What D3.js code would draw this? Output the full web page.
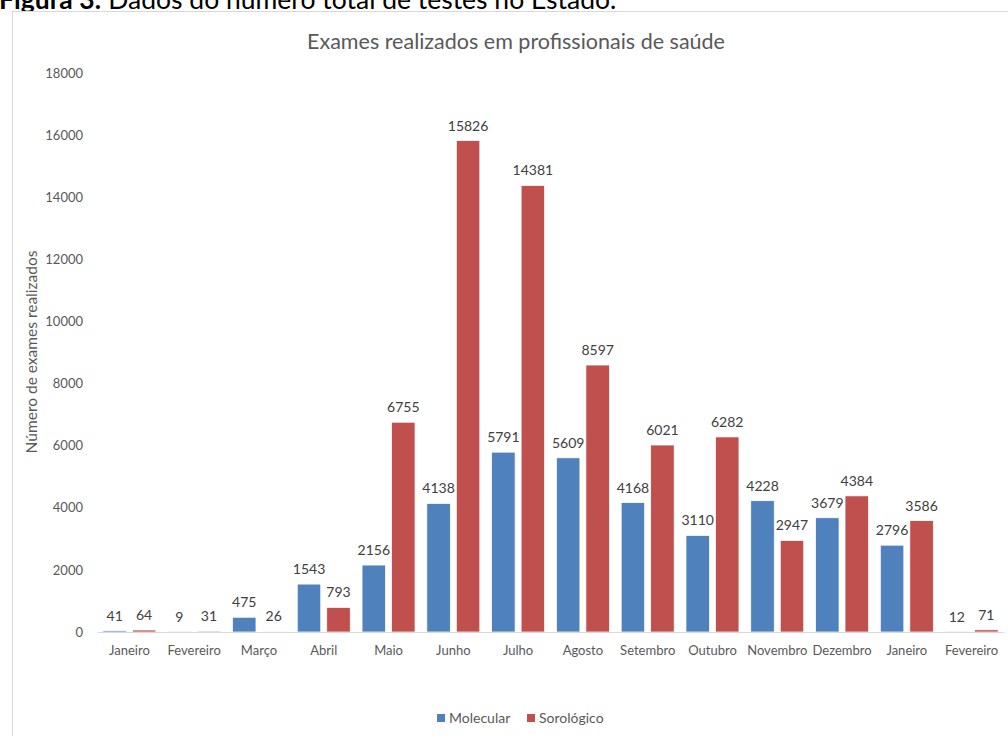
<!DOCTYPE html>
<html><head><meta charset="utf-8">
<script src="https://cdn.jsdelivr.net/npm/d3@7"></script>
<style>body{margin:0;background:#fff;overflow:hidden}svg{display:block}text{font-family:Lato,"Open Sans",sans-serif}</style>
</head><body>
<script>
const months = ["Janeiro","Fevereiro","Março","Abril","Maio","Junho","Julho","Agosto","Setembro","Outubro","Novembro","Dezembro","Janeiro","Fevereiro"];
const seriesNames = ["Molecular","Sorológico"];
const molecular = [41,9,475,1543,2156,4138,5791,5609,4168,3110,4228,3679,2796,12];
const sorologico = [64,31,26,793,6755,15826,14381,8597,6021,6282,2947,4384,3586,71];
const yTicks = [0,2000,4000,6000,8000,10000,12000,14000,16000,18000];
const colors = ["#4f81bd","#c0504d"];

const W=1008,H=736;
const svg=d3.select("body").append("svg").attr("width",W).attr("height",H);

// header caption (cut at top, as in the reference)
const cap=svg.append("text").attr("x",-1).attr("y",9).attr("font-size",26.5).attr("fill","#000");
cap.append("tspan").attr("font-weight","bold").text("Figura 3:");
cap.append("tspan").text(" Dados do número total de testes no Estado.");

// chart frame
svg.append("rect").attr("x",12.5).attr("y",11.5).attr("width",1100).attr("height",800)
  .attr("fill","#fff").attr("stroke","#d9d9d9").attr("stroke-width",1);

svg.append("text").attr("x",516).attr("y",49).attr("text-anchor","middle")
  .attr("font-size",21.5).attr("fill","#595959").text("Exames realizados em profissionais de saúde");

const x0=d3.scaleBand().domain(d3.range(months.length)).range([97,1004]).paddingInner(0.182).paddingOuter(0.091);
const x1=d3.scaleBand().domain([0,1]).range([0,x0.bandwidth()]).paddingInner(0.203);
const y=d3.scaleLinear().domain([0,18000]).range([632,73]);

// y axis
const ya=svg.append("g").attr("transform","translate(90,0)")
  .call(d3.axisLeft(y).tickValues(yTicks).tickSize(0).tickPadding(7).tickFormat(d3.format("d")));
ya.select(".domain").remove();
ya.selectAll("text").attr("font-size",13).attr("fill","#595959").attr("font-family","Lato,sans-serif");

svg.append("text").attr("transform","translate(37,352) rotate(-90)").attr("text-anchor","middle")
  .attr("font-size",15.5).attr("fill","#595959").text("Número de exames realizados");

const data=months.map((m,i)=>({i,vals:[molecular[i],sorologico[i]]}));
const g=svg.selectAll("g.grp").data(data).join("g").attr("class","grp")
  .attr("transform",d=>`translate(${x0(d.i)},0)`);
g.selectAll("rect").data(d=>d.vals.map((v,k)=>({v,k}))).join("rect")
  .attr("x",d=>x1(d.k)).attr("width",x1.bandwidth())
  .attr("y",d=>y(d.v)).attr("height",d=>y(0)-y(d.v))
  .attr("fill",d=>colors[d.k]).attr("stroke","#fff").attr("stroke-width",0.75);
g.selectAll("text.lab").data(d=>d.vals.map((v,k)=>({v,k}))).join("text").attr("class","lab")
  .attr("x",d=>x1(d.k)+x1.bandwidth()/2).attr("y",d=>y(d.v)-10)
  .attr("text-anchor","middle").attr("font-size",14).attr("fill","#404040").text(d=>d.v);

// x axis
const xa=svg.append("g").attr("transform","translate(0,632)")
  .call(d3.axisBottom(x0).tickSize(0).tickPadding(14).tickFormat(i=>months[i]));
xa.select(".domain").attr("stroke","#d9d9d9").attr("stroke-width",1.2);
xa.selectAll("text").attr("font-size",13).attr("fill","#595959").attr("font-family","Lato,sans-serif");

// legend
const lg=svg.append("g").attr("transform","translate(437,719)");
const items=[{n:seriesNames[0],c:colors[0],x:0},{n:seriesNames[1],c:colors[1],x:90}];
items.forEach(it=>{
  lg.append("rect").attr("x",it.x).attr("y",-5).attr("width",8).attr("height",8).attr("fill",it.c);
  lg.append("text").attr("x",it.x+12).attr("y",4).attr("font-size",14).attr("fill","#595959").text(it.n);
});
</script>
</body></html>
